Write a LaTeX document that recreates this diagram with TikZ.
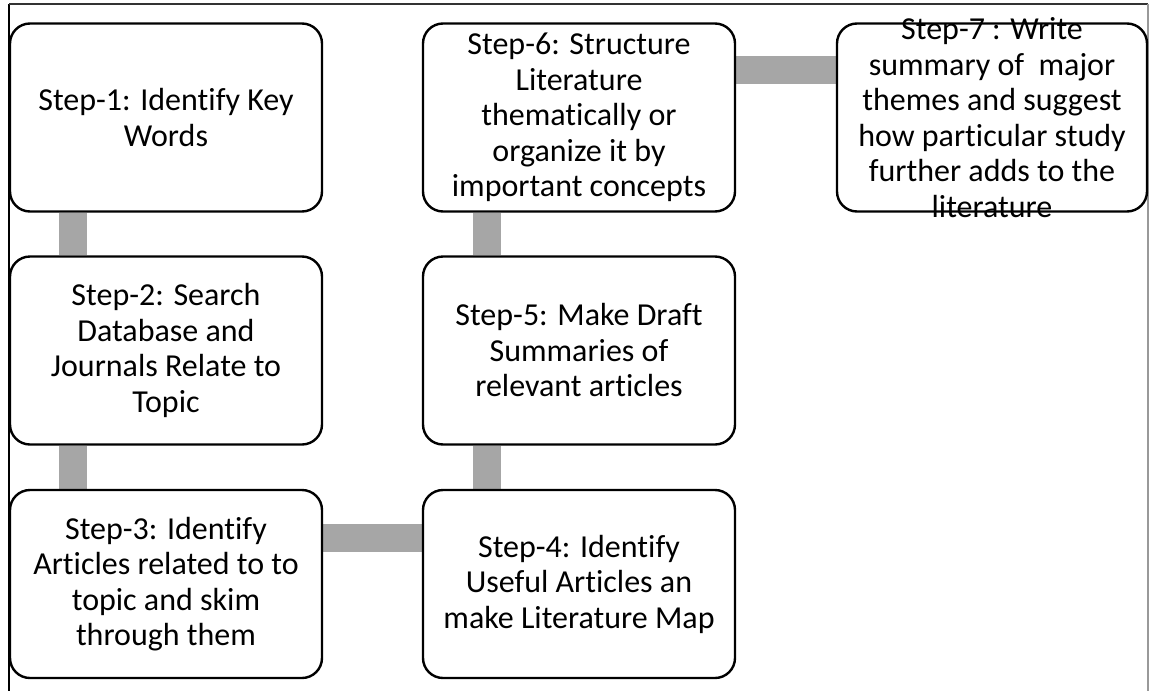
\documentclass[tikz,border=0pt]{standalone}
\usepackage{fontspec}
\setmainfont{Carlito}[Ligatures=NoCommon]
\usetikzlibrary{backgrounds}
\begin{document}
\begin{tikzpicture}[x=1pt,y=-1pt,
  boxshape/.style={draw=black, line width=2.4pt, rounded corners=20pt, fill=white,
    minimum width=312pt, minimum height=188pt, inner sep=0pt},
  boxtext/.style={align=center, inner sep=0pt, font=\fontsize{32}{35.5}\selectfont},
  stepbox/.style={boxshape, boxtext},
  link/.style={draw=black!35, line width=28pt}]
\useasboundingbox (0,0) rectangle (1149,691);
% page frame
\draw[black, line width=1.5pt] (9,691) -- (9,4);
\draw[black!80, line width=1.5pt] (9,4) -- (1148,4);
\draw[black!40, line width=1.5pt] (1148,4) -- (1148,691);
% steps
\node[stepbox] (s1) at (166,117.5) {Step-1: Identify Key\\Words};
\node[stepbox] (s2) at (166,350.5) {Step-2: Search\\Database and\\Journals Relate to\\Topic};
\node[stepbox] (s3) at (166,584) {Step-3: Identify\\Articles related to to\\topic and skim\\through them};
\node[stepbox] (s4) at (579,584) {Step-4: Identify\\Useful Articles an\\make Literature Map};
\node[stepbox] (s5) at (579,350.5) {Step-5: Make Draft\\Summaries of\\relevant articles};
\node[stepbox] (s6) at (579,117.5) {Step-6: Structure\\Literature\\thematically or\\organize it by\\important concepts};
% the last box keeps its size; its text runs over the border
\node[boxshape, minimum width=310pt] (s7) at (992,117.5) {};
\node[boxtext] (s7t) at (s7.center) {Step-7 : Write\\summary of~ major\\themes and suggest\\how particular study\\further adds to the\\literature};
% connectors
\begin{scope}[on background layer]
\draw[link] ([xshift=-93pt]s1.south) -- ([xshift=-93pt]s2.north);
\draw[link] ([xshift=-93pt]s2.south) -- ([xshift=-93pt]s3.north);
\draw[link] ([yshift=46.5pt]s3.east) -- ([yshift=46.5pt]s4.west);
\draw[link] ([xshift=-92pt]s4.north) -- ([xshift=-92pt]s5.south);
\draw[link] ([xshift=-92pt]s5.north) -- ([xshift=-92pt]s6.south);
\draw[link] ([yshift=48pt]s6.east) -- ([yshift=48pt]s7.west);
\end{scope}
\end{tikzpicture}
\end{document}
